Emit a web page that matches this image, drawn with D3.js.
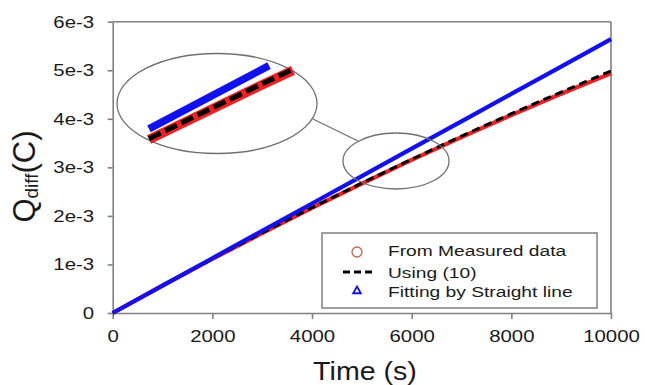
<!DOCTYPE html>
<html><head><meta charset="utf-8">
<script src="https://cdn.jsdelivr.net/npm/d3@7"></script>
<style>
body{margin:0;background:#fff}
text{font-family:"Liberation Sans",Arial,sans-serif;fill:#1a1a1a}
</style>
</head><body>
<svg id="c" width="645" height="385"></svg>
<script>
// ---- data (time in s, charge in C) ----
const time      = [0, 1000, 2000, 3000, 4000, 5000, 6000, 7000, 8000, 9000, 10000];
const measured  = [0, 0.565e-3, 1.113e-3, 1.647e-3, 2.165e-3, 2.667e-3, 3.153e-3, 3.622e-3, 4.077e-3, 4.515e-3, 4.935e-3];
const using10   = [0, 0.565e-3, 1.115e-3, 1.651e-3, 2.171e-3, 2.677e-3, 3.167e-3, 3.644e-3, 4.105e-3, 4.551e-3, 4.985e-3];
const straight  = [0, 0.564e-3, 1.128e-3, 1.692e-3, 2.256e-3, 2.820e-3, 3.384e-3, 3.948e-3, 4.512e-3, 5.076e-3, 5.640e-3];
const xTicks = [0, 2000, 4000, 6000, 8000, 10000];
const yTicks = [0, 1e-3, 2e-3, 3e-3, 4e-3, 5e-3, 6e-3];
const yTickLabels = ["0", "1e-3", "2e-3", "3e-3", "4e-3", "5e-3", "6e-3"];
const seriesNames = ["From Measured data", "Using (10)", "Fitting by Straight line"];
// zoomed inset window (time range shown magnified)
const insetRange = [3400, 4200];
const insetBlueEnd = 4067;

const svg = d3.select("#c");
svg.append("rect").attr("width", 645).attr("height", 385).attr("fill", "#fff");

const x = d3.scaleLinear().domain([0, 10000]).range([112.7, 611]);
const y = d3.scaleLinear().domain([0, 6e-3]).range([313, 21.7]);
const axisColor = "#808080";

// frame (top, right)
svg.append("line").attr("x1", x(0)).attr("x2", x(10000)).attr("y1", y(6e-3)).attr("y2", y(6e-3))
  .attr("stroke", axisColor).attr("stroke-width", 1.6);
svg.append("line").attr("x1", x(10000)).attr("x2", x(10000)).attr("y1", y(0)).attr("y2", y(6e-3))
  .attr("stroke", axisColor).attr("stroke-width", 1.6);

const gx = svg.append("g").attr("transform", `translate(0,${y(0)})`)
  .call(d3.axisBottom(x).tickValues(xTicks).tickSize(6).tickSizeOuter(0).tickFormat(d3.format("d")));
const gy = svg.append("g").attr("transform", `translate(${x(0)},0)`)
  .call(d3.axisLeft(y).tickValues(yTicks).tickSize(5).tickSizeOuter(0).tickFormat((d, i) => yTickLabels[i]));
[gx, gy].forEach(g => {
  g.select(".domain").attr("stroke", axisColor).attr("stroke-width", 1.6);
  g.selectAll(".tick line").attr("stroke", axisColor).attr("stroke-width", 1.6);
  g.selectAll("text").attr("font-size", 17).attr("fill", "#1a1a1a")
    .attr("font-family", '"Liberation Sans",Arial,sans-serif');
});
gx.selectAll("text").attr("y", 17).attr("transform", "scale(1.2,1)");
gy.selectAll("text").attr("x", -15.5).attr("transform", "scale(1.2,1)");

// axis titles
svg.append("text").attr("transform", "translate(365,380) scale(1.1,1)").attr("text-anchor", "middle")
  .attr("font-size", 26).text("Time (s)");
const yt = svg.append("text").attr("transform", "translate(35,176.5) rotate(-90)").attr("text-anchor", "middle")
  .attr("font-size", 31);
yt.append("tspan").text("Q");
yt.append("tspan").attr("font-size", 19).attr("dy", 3).text("diff");
yt.append("tspan").attr("dy", -3).text("(C)");

// main series
const mk = arr => time.map((t, i) => [t, arr[i]]);
const line = d3.line().x(d => x(d[0])).y(d => y(d[1]));
svg.append("path").attr("d", line(mk(measured))).attr("fill", "none").attr("stroke", "#f02020").attr("stroke-width", 4.2);
svg.append("path").attr("d", line(mk(using10))).attr("fill", "none").attr("stroke", "#000").attr("stroke-width", 3)
  .attr("stroke-dasharray", "8,5");
svg.append("path").attr("d", line(mk(straight))).attr("fill", "none").attr("stroke", "#1010f0").attr("stroke-width", 4.2);

// zoom ellipses + connector
const ellStroke = "#707070";
svg.append("ellipse").attr("cx", 396).attr("cy", 161).attr("rx", 53).attr("ry", 28)
  .attr("fill", "none").attr("stroke", ellStroke).attr("stroke-width", 1.3);
svg.append("ellipse").attr("cx", 217).attr("cy", 103.5).attr("rx", 100).attr("ry", 50)
  .attr("fill", "none").attr("stroke", ellStroke).attr("stroke-width", 1.3);
svg.append("line").attr("x1", 313).attr("y1", 119).attr("x2", 358).attr("y2", 141)
  .attr("stroke", ellStroke).attr("stroke-width", 1.3);

// inset (magnified view of the same series)
const fRed = d3.scaleLinear().domain(time).range(measured);
const fBlk = d3.scaleLinear().domain(time).range(using10);
const fBlu = d3.scaleLinear().domain(time).range(straight);
const ix = d3.scaleLinear().domain(insetRange).range([149, 293]);
const y0 = fRed(insetRange[0]);
const iy = d3.scaleLinear().domain([y0, y0 + 1e-3]).range([139.5, 139.5 - 168]);
const seg = (f, t0, t1) => [t0, ...time.filter(t => t > t0 && t < t1), t1].map(t => [t, f(t)]);
const iline = d3.line().x(d => ix(d[0])).y(d => iy(d[1]));
svg.append("path").attr("d", iline(seg(fRed, insetRange[0], insetRange[1]))).attr("fill", "none")
  .attr("stroke", "#f02020").attr("stroke-width", 9.5);
svg.append("path").attr("d", iline(seg(fBlk, insetRange[0], insetRange[1]))).attr("fill", "none")
  .attr("stroke", "#000").attr("stroke-width", 5).attr("stroke-dasharray", "13,5");
svg.append("path").attr("d", iline(seg(fBlu, insetRange[0], insetBlueEnd))).attr("fill", "none")
  .attr("stroke", "#1010f0").attr("stroke-width", 7.5);

// legend
const lg = svg.append("g");
lg.append("rect").attr("x", 322).attr("y", 233).attr("width", 275).attr("height", 75)
  .attr("fill", "#fff").attr("stroke", axisColor).attr("stroke-width", 1.5);
lg.append("circle").attr("cx", 357).attr("cy", 252).attr("r", 5).attr("fill", "none")
  .attr("stroke", "#c86450").attr("stroke-width", 1.3);
lg.append("line").attr("x1", 343).attr("x2", 372).attr("y1", 272).attr("y2", 272)
  .attr("stroke", "#000").attr("stroke-width", 3).attr("stroke-dasharray", "7,4");
lg.append("path").attr("d", d3.symbol(d3.symbolTriangle, 26)()).attr("transform", "translate(357,291)")
  .attr("fill", "none").attr("stroke", "#1010f0").attr("stroke-width", 1.8);
const baselines = [256, 277.5, 297];
seriesNames.forEach((n, i) => {
  lg.append("text").attr("transform", `translate(388,${baselines[i]}) scale(1.24,1)`)
    .attr("font-size", 15.5).text(n);
});
</script>
</body></html>
